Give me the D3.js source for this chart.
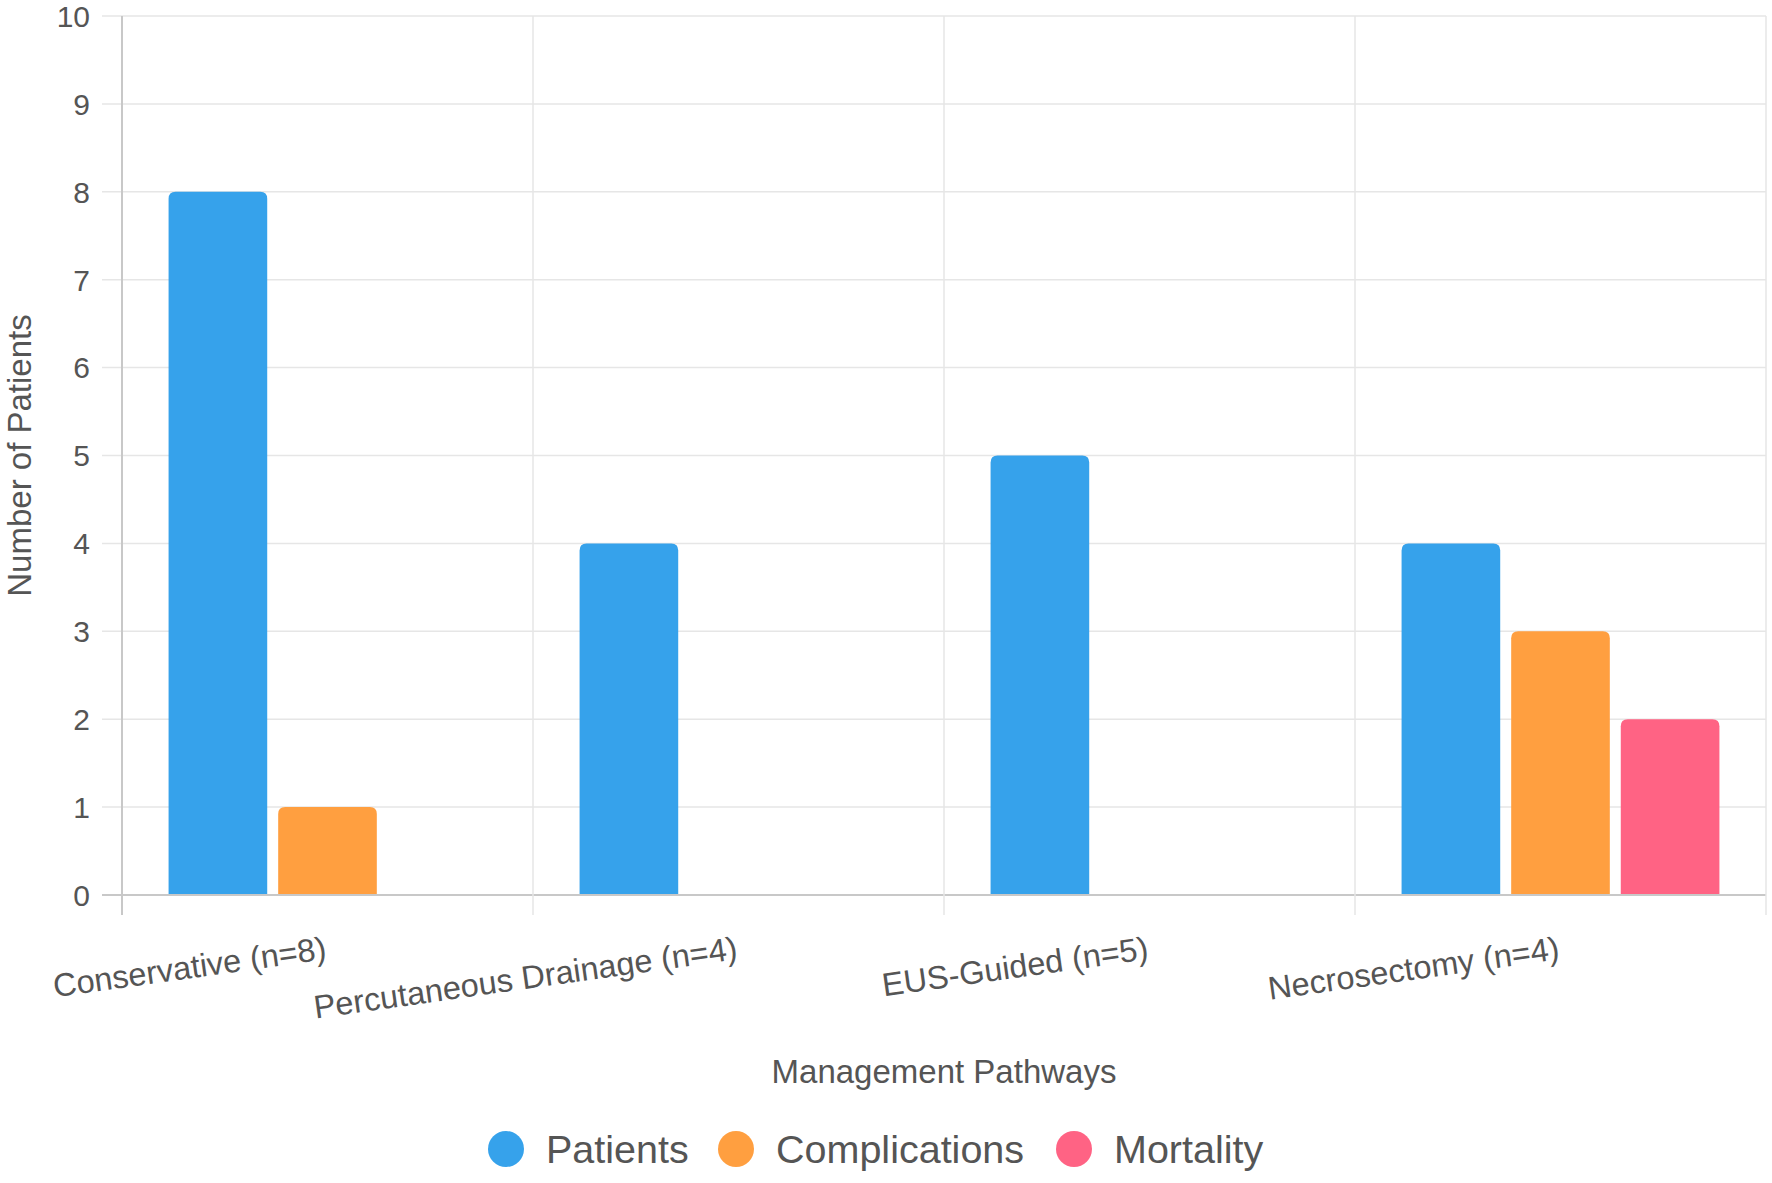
<!DOCTYPE html>
<html>
<head>
<meta charset="utf-8">
<script src="https://cdn.jsdelivr.net/npm/d3@7"></script>
<style>
  body { margin: 0; background: #fff; }
  svg text { font-family: "Helvetica Neue", Helvetica, Arial, "Liberation Sans", sans-serif; fill: #555; }
</style>
</head>
<body>
<div id="chart"></div>
<script>
const CATEGORIES = ["Conservative (n=8)", "Percutaneous Drainage (n=4)", "EUS-Guided (n=5)", "Necrosectomy (n=4)"];
const SERIES = ["Patients", "Complications", "Mortality"];
const PATIENTS = [8, 4, 5, 4];
const COMPLICATIONS = [1, 0, 0, 3];
const MORTALITY = [0, 0, 0, 2];
const Y_TICKS = [0, 1, 2, 3, 4, 5, 6, 7, 8, 9, 10];
const COLORS = ["#36A2EB", "#FF9F40", "#FF6384"];

const W = 1772, H = 1183;
const M = {left: 122, right: 6, top: 16, bottom: 288};

var svg = d3.select("#chart").append("svg")
            .attr("width", W)
            .attr("height", H);

var x = d3.scaleBand()
          .domain(CATEGORIES)
          .range([M.left, W - M.right]);
var inner = d3.scaleBand()
              .domain(SERIES)
              .range([x.bandwidth()*0.1, x.bandwidth()*0.9])
              .paddingInner(0.1)
              .paddingOuter(0.05);
var y = d3.scaleLinear()
          .domain([0, 10])
          .range([H - M.bottom, M.top]);

// grid
var grid = svg.append("g");
grid.selectAll("line.h")
    .data(Y_TICKS)
    .enter()
    .append("line")
    .attr("x1", M.left - 20)
    .attr("x2", W - M.right)
    .attr("y1", (d) => y(d))
    .attr("y2", (d) => y(d))
    .attr("stroke", (d) => (d === 0 ? "#c8c8c8" : "#e6e6e6"))
    .attr("stroke-width", (d) => (d === 0 ? 2 : 1.5));
var vx = CATEGORIES.map((d) => x(d)).concat([W - M.right]);
grid.selectAll("line.v")
    .data(vx)
    .enter()
    .append("line")
    .attr("x1", (d) => d)
    .attr("x2", (d) => d)
    .attr("y1", M.top)
    .attr("y2", y(0) + 20)
    .attr("stroke", (d, i) => (i === 0 ? "#c8c8c8" : "#e6e6e6"))
    .attr("stroke-width", (d, i) => (i === 0 ? 2 : 1.5));

// y tick labels
svg.append("g")
   .selectAll("text")
   .data(Y_TICKS)
   .enter()
   .append("text")
   .attr("x", M.left - 32)
   .attr("y", (d) => y(d))
   .attr("dy", "0.36em")
   .attr("text-anchor", "end")
   .style("font-size", "30px")
   .text((d) => d);

// bars with rounded tops
var topRound = function(x0, y0, w, h, r){
    r = Math.min(r, h, w/2);
    return "M"+x0+","+(y0+h)+"V"+(y0+r)+"Q"+x0+","+y0+" "+(x0+r)+","+y0+
           "H"+(x0+w-r)+"Q"+(x0+w)+","+y0+" "+(x0+w)+","+(y0+r)+"V"+(y0+h)+"Z";
};
var values = [PATIENTS, COMPLICATIONS, MORTALITY];
var barData = [];
CATEGORIES.forEach(function(c, i){
    SERIES.forEach(function(s, j){
        barData.push({cat: c, series: s, value: values[j][i], color: COLORS[j]});
    });
});
svg.append("g")
   .selectAll("path")
   .data(barData.filter((d) => d.value > 0))
   .enter()
   .append("path")
   .attr("d", (d) => topRound(x(d.cat) + inner(d.series), y(d.value), inner.bandwidth(), y(0) - y(d.value) - 1, 7))
   .attr("fill", (d) => d.color);

// x tick labels, rotated
svg.append("g")
   .selectAll("text")
   .data(CATEGORIES)
   .enter()
   .append("text")
   .attr("transform", (d) => "translate(" + (x(d) + x.bandwidth()/2) + "," + (y(0) + 64) + ") rotate(-8)")
   .attr("text-anchor", "end")
   .style("font-size", "32.5px")
   .text((d) => d);

// axis titles
svg.append("text")
   .attr("transform", "translate(" + 31 + "," + ((y(0) + y(10))/2) + ") rotate(-90)")
   .attr("text-anchor", "middle")
   .style("font-size", "33px")
   .text("Number of Patients");
svg.append("text")
   .attr("x", (M.left + W - M.right)/2)
   .attr("y", 1083)
   .attr("text-anchor", "middle")
   .style("font-size", "33px")
   .text("Management Pathways");

// legend
var legendX = [506, 736, 1074];
var lg = svg.append("g")
            .selectAll("g")
            .data(SERIES)
            .enter()
            .append("g")
            .attr("transform", (d, i) => "translate(" + legendX[i] + ",1149)");
lg.append("circle")
  .attr("r", 18)
  .attr("fill", (d, i) => COLORS[i]);
lg.append("text")
  .attr("x", 40)
  .attr("dy", "0.36em")
  .style("font-size", "39.5px")
  .text((d) => d);
</script>
</body>
</html>
